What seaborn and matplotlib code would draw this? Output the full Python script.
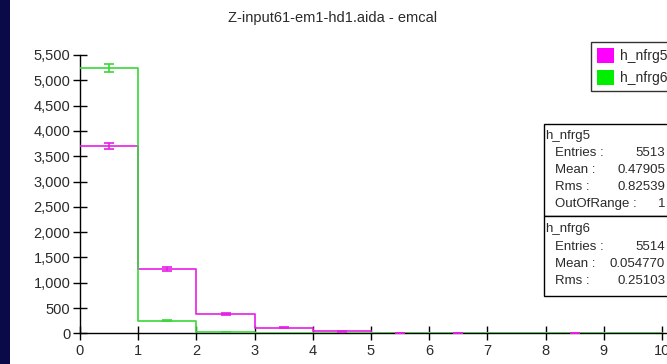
import numpy as np
import pandas as pd
import matplotlib
matplotlib.use("Agg")
import matplotlib.pyplot as plt
import seaborn as sns
from matplotlib.patches import Rectangle, Patch

# ---- data ----
bin_edges = list(range(0, 11))
bin_centers = [0.5, 1.5, 2.5, 3.5, 4.5, 5.5, 6.5, 7.5, 8.5, 9.5]
h_nfrg5 = [3700, 1270, 374, 110, 40, 10, 5, 0, 3, 0]
h_nfrg6 = [5240, 252, 22, 0, 0, 0, 0, 0, 0, 0]
series_names = ["h_nfrg5", "h_nfrg6"]
y_ticks = [0, 500, 1000, 1500, 2000, 2500, 3000, 3500, 4000, 4500, 5000, 5500]
x_ticks = list(range(0, 11))
title = "Z-input61-em1-hd1.aida - emcal"
stats5 = [("Entries :", "5513"), ("Mean :", "0.47905"), ("Rms :", "0.82539"), ("OutOfRange :", "1")]
stats6 = [("Entries :", "5514"), ("Mean :", "0.054770"), ("Rms :", "0.25103")]

MAG = "#e61ee6"
GRN = "#3ad83a"
TXT = "#2a2a2a"

W, H = 667, 364
sns.set_theme(style="white")
plt.rcParams["font.family"] = ["Liberation Sans", "DejaVu Sans"]
fig = plt.figure(figsize=(W / 100, H / 100), dpi=100)
fig.patch.set_facecolor("white")

def fx(px):
    return px / W

def fy(py):
    return 1 - py / H

# dark left strip
fig.add_artist(Rectangle((0, 0), fx(10), 1, transform=fig.transFigure,
                         facecolor="#0a0a48", edgecolor="none", zorder=0))

ax_left, ax_right, ax_top, ax_bot = 80, 667, 55, 333.3
ax = fig.add_axes([fx(ax_left), fy(ax_bot), fx(ax_right - ax_left), (ax_bot - ax_top) / H])
ax.set_facecolor("white")

df = pd.DataFrame({
    "x": bin_centers * 2,
    "w": h_nfrg5 + h_nfrg6,
    "s": [series_names[0]] * 10 + [series_names[1]] * 10,
})
for name, col, vals in [(series_names[0], MAG, h_nfrg5), (series_names[1], GRN, h_nfrg6)]:
    sub = df[df["s"] == name]
    sns.histplot(data=sub, x="x", weights="w", bins=bin_edges, element="step",
                 fill=False, color=col, linewidth=1.2, ax=ax, zorder=3)
    v = np.array(vals, dtype=float)
    mask = v > 0
    ax.errorbar(np.array(bin_centers)[mask], v[mask], yerr=np.sqrt(v[mask]), fmt="none",
                ecolor=col, elinewidth=1.2, capsize=3.5, capthick=1.2, zorder=4)

px_per_unit = 58.2
ax.set_xlim(0, (ax_right - ax_left) / px_per_unit)
ax.set_ylim(0, 5500)
ax.set_xticks(x_ticks)
ax.set_yticks(y_ticks)
ax.set_xticklabels([str(t) for t in x_ticks])
ax.set_yticklabels([f"{t:,}" for t in y_ticks])
ax.set_xlabel("")
ax.set_ylabel("")
for s in ["top", "right"]:
    ax.spines[s].set_visible(False)
for s in ["left", "bottom"]:
    ax.spines[s].set_visible(True)
    ax.spines[s].set_color("black")
    ax.spines[s].set_linewidth(1.0)
ax.tick_params(axis="both", which="major", bottom=True, left=True, direction="inout",
               length=10, width=1.0, colors="black", labelsize=10.5, labelcolor=TXT)
ax.tick_params(axis="y", pad=2)
ax.tick_params(axis="x", pad=2.5)
ax.grid(False)

fig.text(fx(333), fy(18), title, ha="center", va="center", fontsize=10.5, color=TXT)

# legend
handles = [Patch(facecolor="#ff00ff", edgecolor="none"), Patch(facecolor="#00ee00", edgecolor="none")]
leg = fig.legend(handles, series_names, loc="upper left", bbox_to_anchor=(fx(591), fy(42)),
                 frameon=True, fancybox=False, fontsize=10, handlelength=1.2, handleheight=1.25,
                 handletextpad=0.45, borderpad=0.45, labelspacing=0.5, borderaxespad=0,
                 labelcolor=TXT)
leg.get_frame().set_edgecolor("black")
leg.get_frame().set_linewidth(1.0)

# stats boxes
box_l, box_r = 544, 700
top = 124
def draw_box(t, b):
    fig.add_artist(Rectangle((fx(box_l), fy(b)), fx(box_r - box_l), (b - t) / H,
                             transform=fig.transFigure, facecolor="white", edgecolor="black",
                             linewidth=1.0, zorder=5))

draw_box(top, top + 92)
draw_box(top + 92, top + 172)
fs = 9.5
rows5 = [top + 29, top + 46, top + 63, top + 80]
rows6 = [top + 123, top + 140, top + 157]
fig.text(fx(545), fy(top + 12), series_names[0], ha="left", va="center", fontsize=fs, color=TXT, zorder=6)
for yy, (k, v) in zip(rows5, stats5):
    fig.text(fx(555), fy(yy), k, ha="left", va="center", fontsize=fs, color=TXT, zorder=6)
    fig.text(fx(665), fy(yy), v, ha="right", va="center", fontsize=fs, color=TXT, zorder=6)
fig.text(fx(545), fy(top + 105), series_names[1], ha="left", va="center", fontsize=fs, color=TXT, zorder=6)
for yy, (k, v) in zip(rows6, stats6):
    fig.text(fx(555), fy(yy), k, ha="left", va="center", fontsize=fs, color=TXT, zorder=6)
    fig.text(fx(665), fy(yy), v, ha="right", va="center", fontsize=fs, color=TXT, zorder=6)

fig.savefig("out.png", dpi=100)
